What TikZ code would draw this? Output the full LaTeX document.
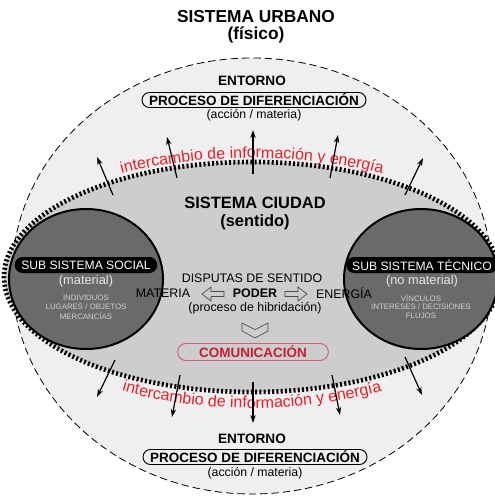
\documentclass[tikz,border=0pt]{standalone}
\usepackage{fontspec}
\setmainfont{Liberation Sans}
\usetikzlibrary{calc,arrows.meta,decorations.text}

\definecolor{envfill}{HTML}{EFEFEF}
\definecolor{cityfill}{HTML}{CDCDCD}
\definecolor{subfill}{HTML}{6A6A6A}
\definecolor{xred}{HTML}{E8202A}
\definecolor{comred}{HTML}{C81E32}
\definecolor{compink}{HTML}{D85A72}
\definecolor{softwhite}{HTML}{E8E8E8}
\definecolor{smallgrey}{HTML}{D0D0D0}
\definecolor{hollowline}{HTML}{4A4A4A}

\newcommand\setfs[1]{\fontsize{#1}{#1}\selectfont}
\newcommand\exchfont{\setfs{12}\color{xred}}

\begin{document}
\begin{tikzpicture}[x=0.75pt,y=0.75pt,
  txt/.style={inner sep=0pt, anchor=center},
  bigtitle/.style={txt, font=\bfseries\setfs{13}},
  envtitle/.style={txt, font=\bfseries\setfs{10.2}},
  procpill/.style={draw=black, line width=0.7pt, rounded corners=5.6pt,
    minimum width=168pt, minimum height=11.25pt, inner sep=0pt,
    font=\bfseries\setfs{10.1}},
  paren/.style={txt, font=\setfs{9.2}},
  subpill/.style={fill=black, rounded corners=6pt, minimum height=12pt,
    inner xsep=4.5pt, inner ysep=0pt, text=white, font=\setfs{9.1}},
  subparen/.style={txt, text=softwhite, font=\setfs{9.6}},
  subsmall/.style={txt, text=smallgrey, font=\setfs{5.9}},
  midtext/.style={txt, font=\setfs{9.3}},
  radial/.style={line width=0.9pt, -{Stealth[length=6pt,width=4pt]}},
  hollowarrow/.style={draw=hollowline, line width=0.5pt, line join=miter},
  exchange/.style={decorate, decoration={text along path, text align=center,
    text={|\exchfont|intercambio de información y energía}}}
]
\useasboundingbox (0,0) rectangle (495,-497);
\fill[white] (0,0) rectangle (495,-497);

% --- environment (physical urban system) ---
\coordinate (env) at (252,-276);
\draw[fill=envfill, line width=0.6pt, dash pattern=on 5.5pt off 3pt]
  (env) ellipse [x radius=180pt, y radius=163.5pt];

% --- city system ---
\coordinate (city) at (252,-277);
\fill[cityfill] (city) ellipse [x radius=186pt, y radius=86.25pt];
\draw[line width=3.5pt, dash pattern=on 1.5pt off 1.7pt]
  (city) ellipse [x radius=186pt, y radius=86.25pt];

% --- exchange labels along the border ---
\path[exchange] ($(city)+(160:196.5pt and 89.25pt)$)
  arc [start angle=160, end angle=20, x radius=196.5pt, y radius=89.25pt];
\path[exchange] ($(city)+(200:196.5pt and 98.25pt)$)
  arc [start angle=200, end angle=340, x radius=196.5pt, y radius=98.25pt];

% --- exchange arrows ---
\coordinate (a1s) at (113,-195); \coordinate (a1e) at (97,-157);
\coordinate (a2s) at (177,-178); \coordinate (a2e) at (167,-137);
\coordinate (a3s) at (253,-174); \coordinate (a3e) at (253,-130);
\coordinate (a4s) at (330,-178); \coordinate (a4e) at (338,-135);
\coordinate (a5s) at (405,-195); \coordinate (a5e) at (423,-158);
\coordinate (b1s) at (115,-360); \coordinate (b1e) at (97,-397);
\coordinate (b2s) at (180,-375); \coordinate (b2e) at (172,-417);
\coordinate (b3s) at (253,-382); \coordinate (b3e) at (253,-423);
\coordinate (b4s) at (332,-375); \coordinate (b4e) at (340,-415);
\coordinate (b5s) at (405,-357); \coordinate (b5e) at (422,-395);
\foreach \k in {a1,a2,a3,a4,a5,b1,b2,b3,b4,b5}
  \draw[radial] (\k s) -- (\k e);

% --- subsystems ---
\coordinate (social) at (86,-279);
\coordinate (tecnico) at (421,-279);
\draw[fill=subfill, line width=1.5pt] (social) ellipse [x radius=57.75pt, y radius=52.5pt];
\draw[fill=subfill, line width=1.5pt] (tecnico) ellipse [x radius=57.75pt, y radius=52.5pt];

\node[subpill, minimum width=107pt] (socialpill) at (86,-265) {SUB SISTEMA SOCIAL};
\node[subparen] (socialmat) at (86,-281) {(material)};
\node[subsmall] (soc1) at (86,-298) {INDIVIDUOS};
\node[subsmall] (soc2) at (86,-307) {LUGARES / OBJETOS};
\node[subsmall] (soc3) at (86,-316) {MERCANCÍAS};

\node[subpill] (tecpill) at (422,-265) {SUB SISTEMA TÉCNICO};
\node[subparen] (tecmat) at (422,-281) {(no material)};
\node[subsmall] (tec1) at (421,-298) {VÍNCULOS};
\node[subsmall] (tec2) at (421,-307) {INTERESES / DECISIONES};
\node[subsmall] (tec3) at (421,-316) {FLUJOS};

% --- titles ---
\node[bigtitle] (urb1) at (256,-17) {SISTEMA URBANO};
\node[bigtitle] (urb2) at (256,-35) {(físico)};
\node[bigtitle, font=\bfseries\setfs{12.3}] (ciu1) at (255,-203) {SISTEMA CIUDAD};
\node[bigtitle, font=\bfseries\setfs{12.3}] (ciu2) at (255,-222) {(sentido)};

% --- environment labels ---
\node[envtitle] (ent1) at (252,-81) {ENTORNO};
\node[procpill] (proc1) at (254,-100) {PROCESO DE DIFERENCIACIÓN};
\node[paren] (acc1) at (254,-115) {(acción / materia)};
\node[envtitle] (ent2) at (252,-439) {ENTORNO};
\node[procpill] (proc2) at (255,-457) {PROCESO DE DIFERENCIACIÓN};
\node[paren] (acc2) at (255,-473) {(acción / materia)};

% --- disputes of meaning ---
\node[midtext] (disp) at (252,-278) {DISPUTAS DE SENTIDO};
\node[midtext] (mat) at (163,-293) {MATERIA};
\node[midtext, font=\bfseries\setfs{9.3}] (poder) at (255,-293) {PODER};
\node[midtext] (ener) at (344,-293) {ENERGÍA};
\node[midtext] (hibr) at (255,-308) {(proceso de hibridación)};

% hollow arrows and chevron
\draw[hollowarrow] (202,-294) -- (211,-287) -- (211,-291.5) -- (224,-291.5)
  -- (224,-296.5) -- (211,-296.5) -- (211,-301) -- cycle;
\draw[hollowarrow] (307,-294) -- (298,-287) -- (298,-291.5) -- (285,-291.5)
  -- (285,-296.5) -- (298,-296.5) -- (298,-301) -- cycle;
\draw[hollowarrow] (242,-323) -- (255,-329.5) -- (268,-323) -- (268,-331)
  -- (255,-338) -- (242,-331) -- cycle;

% --- communication ---
\node[draw=compink, line width=0.7pt, rounded corners=6.3pt,
  minimum width=113pt, minimum height=12.75pt, inner sep=0pt,
  text=comred, font=\bfseries\setfs{10.1}] (com) at (253,-352) {COMUNICACIÓN};

\end{tikzpicture}
\end{document}
